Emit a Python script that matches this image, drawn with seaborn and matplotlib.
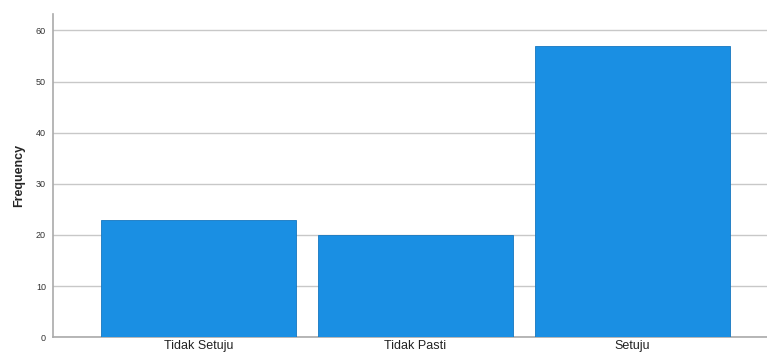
import matplotlib
matplotlib.use("Agg")
import matplotlib.pyplot as plt
import seaborn as sns
import pandas as pd

categories = ["Tidak Setuju", "Tidak Pasti", "Setuju"]
frequency = [23, 20, 57]
yticks = [0, 10, 20, 30, 40, 50, 60]

df = pd.DataFrame({"kategori": categories, "freq": frequency})

sns.set_style("white")
plt.rcParams["font.family"] = ["Liberation Sans", "DejaVu Sans"]

fig = plt.figure(figsize=(7.67, 3.61), dpi=100)
ax = fig.add_axes([0.069, 0.066, 0.931, 0.895])

sns.barplot(data=df, x="kategori", y="freq", color="#1a8fe3", saturation=1,
            width=0.9, edgecolor="#1577c0", linewidth=0.6, ax=ax, zorder=3)

ax.set_ylim(0, 63.2)
ax.set_xlim(-0.67, 2.62)
ax.set_yticks(yticks)
ax.set_yticklabels([str(t) for t in yticks], fontsize=6.5, color="#333333")
ax.tick_params(axis="x", labelsize=9, colors="#222222", length=0, pad=2)
ax.tick_params(axis="y", length=0, pad=5)
ax.yaxis.grid(True, color="#c8c8c8", linewidth=1, zorder=0)
ax.set_axisbelow(True)
ax.set_xlabel("")
ax.set_ylabel("Frequency", fontsize=9, fontweight="bold", labelpad=8)

for s in ["top", "right"]:
    ax.spines[s].set_visible(False)
ax.spines["left"].set_color("#aaaaaa")
ax.spines["bottom"].set_color("#aaaaaa")
ax.spines["left"].set_linewidth(1.2)
ax.spines["bottom"].set_linewidth(1.2)

fig.savefig("out.png", dpi=100)
